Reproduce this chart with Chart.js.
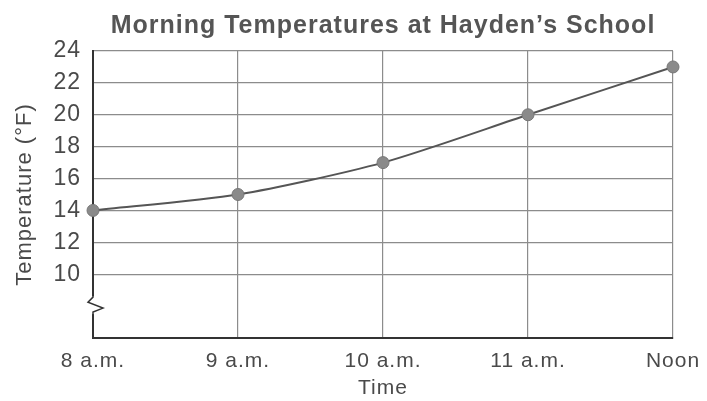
<!DOCTYPE html>
<html>
<head>
<meta charset="utf-8">
<script src="https://cdn.jsdelivr.net/npm/chart.js@4/dist/chart.umd.min.js"></script>
<style>
  html, body { margin: 0; padding: 0; background: #fff; }
  #wrap { width: 707px; height: 401px; }
</style>
</head>
<body>
<div id="wrap"><canvas id="myChart"></canvas></div>
<script>
const times = ['8 a.m.', '9 a.m.', '10 a.m.', '11 a.m.', 'Noon'];
const temps = [14, 15, 17, 20, 23];
const yLabels = [10, 12, 14, 16, 18, 20, 22, 24];
const chartTitle = 'Morning Temperatures at Hayden\u2019s School';

const textColor = '#4a4a4a';
const gridColor = '#8c8c8c';
const frameColor = '#333';
const fontFamily = '"Liberation Sans", Arial, sans-serif';

// the printed chart uses a wide, loosely spaced type
const spacing = {
  id: 'spacing',
  beforeUpdate(chart) { chart.ctx.letterSpacing = '1px'; },
  beforeDraw(chart) { chart.ctx.letterSpacing = '1px'; }
};

// title centred over the plot, plus the zigzag axis break
const extras = {
  id: 'extras',
  afterDraw(chart) {
    const ctx = chart.ctx;
    const area = chart.chartArea;
    const y = chart.scales.y;
    ctx.save();
    ctx.fillStyle = '#555';
    ctx.font = 'bold 25px ' + fontFamily;
    ctx.textAlign = 'center';
    ctx.textBaseline = 'alphabetic';
    ctx.fillText(chartTitle, (area.left + area.right) / 2, 33);

    const by = y.getPixelForValue(8);
    const x0 = area.left;
    ctx.fillStyle = '#fff';
    ctx.fillRect(x0 - 3, by - 10, 6, 18);
    ctx.strokeStyle = frameColor;
    ctx.lineWidth = 1.5;
    ctx.beginPath();
    ctx.moveTo(x0, by - 12);
    ctx.lineTo(x0, by - 9);
    ctx.lineTo(x0 - 5, by - 4);
    ctx.lineTo(x0 + 10, by + 2);
    ctx.lineTo(x0, by + 6);
    ctx.lineTo(x0, by + 10);
    ctx.stroke();
    ctx.restore();
  }
};

new Chart(document.getElementById('myChart'), {
  type: 'line',
  data: {
    labels: times,
    datasets: [{
      data: temps,
      borderColor: '#555',
      borderWidth: 2,
      tension: 0.25,
      pointRadius: 6,
      pointBackgroundColor: '#8a8a8a',
      pointBorderColor: '#777',
      pointBorderWidth: 1,
      fill: false
    }]
  },
  options: {
    responsive: true,
    maintainAspectRatio: false,
    animation: false,
    layout: { padding: { top: 51, right: 34, left: 0, bottom: 0 } },
    plugins: {
      legend: { display: false },
      tooltip: { enabled: false }
    },
    scales: {
      x: {
        offset: false,
        grid: { color: gridColor, lineWidth: 1.2, drawTicks: false },
        border: { color: frameColor, width: 2 },
        ticks: {
          color: textColor,
          padding: 11,
          maxRotation: 0,
          autoSkip: false,
          font: { family: fontFamily, size: 21 }
        },
        title: {
          display: true,
          text: 'Time',
          color: textColor,
          padding: { top: 0, bottom: 0 },
          font: { family: fontFamily, size: 21 }
        },
        afterFit(scale) {
          scale.height = 63;
          scale.paddingLeft = 0;
          scale.paddingRight = 0;
        }
      },
      y: {
        min: 6,
        max: 24,
        grid: {
          drawTicks: false,
          lineWidth: 1.2,
          color: ctx => (ctx.tick && yLabels.includes(ctx.tick.value)) ? gridColor : 'rgba(0,0,0,0)'
        },
        border: { color: frameColor, width: 2 },
        ticks: {
          stepSize: 2,
          color: textColor,
          padding: 12,
          callback: v => yLabels.includes(v) ? String(v) : '',
          font: { family: fontFamily, size: 23 }
        },
        title: {
          display: true,
          text: 'Temperature (\u00B0F)',
          color: textColor,
          padding: { top: 12, bottom: 4 },
          font: { family: fontFamily, size: 22 }
        },
        afterFit(scale) { scale.width = 93; }
      }
    }
  },
  plugins: [spacing, extras]
});
</script>
</body>
</html>
